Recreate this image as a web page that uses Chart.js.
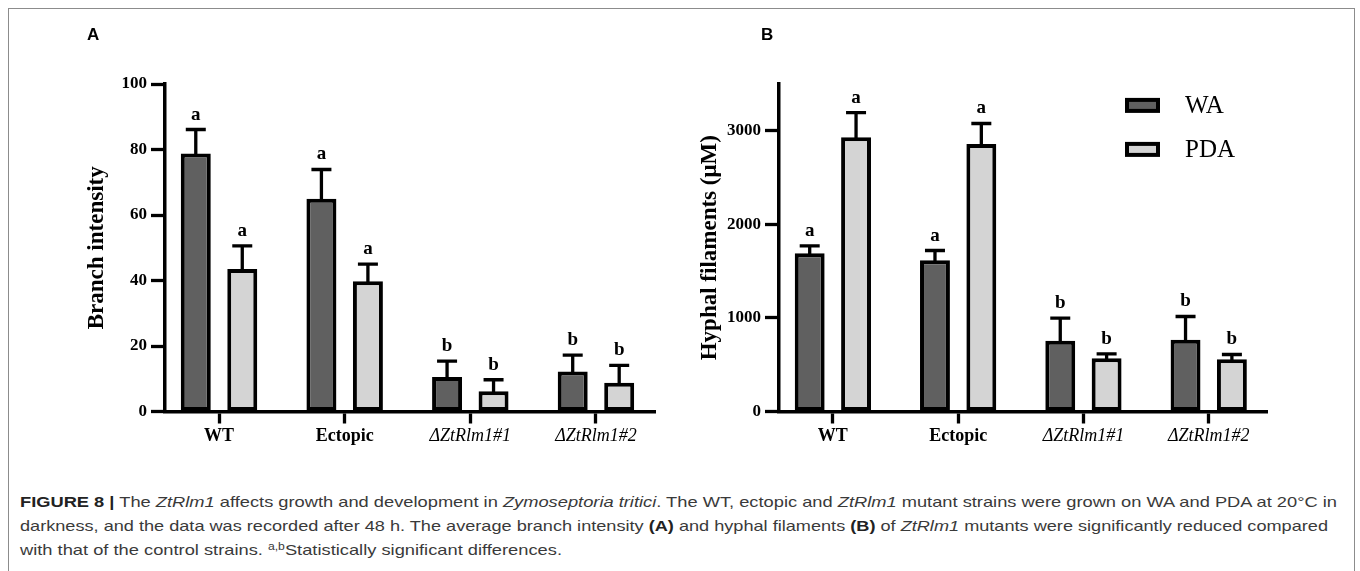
<!DOCTYPE html>
<html><head><meta charset="utf-8">
<script src="https://cdn.jsdelivr.net/npm/chart.js@4.4.1/dist/chart.umd.min.js"></script>
<style>
html,body{margin:0;padding:0;background:#fff;}
body{width:1360px;height:571px;position:relative;overflow:hidden;}
#frame{position:absolute;left:8px;top:8px;width:1347px;height:600px;border:1px solid #8c8c8c;box-sizing:border-box;}
canvas{position:absolute;top:0;}
#cA{left:0;} #cB{left:680px;}
.panel{position:absolute;font-family:"Liberation Sans",Arial,sans-serif;font-weight:bold;font-size:17px;line-height:17px;color:#000;}
.cap{position:absolute;left:20px;font-family:"Liberation Sans",Arial,sans-serif;font-size:15px;line-height:15px;color:#3a3a3a;white-space:nowrap;transform-origin:0 0;}
.cap b{color:#222;}
.cap sup{font-size:10px;vertical-align:5px;line-height:0;}
</style></head><body>
<div id="frame"></div>
<canvas id="cA" width="680" height="460"></canvas>
<canvas id="cB" width="680" height="460"></canvas>
<div class="panel" style="left:87px;top:26px;">A</div>
<div class="panel" style="left:761px;top:26px;">B</div>
<div class="cap" data-w="1317" style="top:494px;"><b>FIGURE 8 |</b> The <i>ZtRlm1</i> affects growth and development in <i>Zymoseptoria tritici</i>. The WT, ectopic and <i>ZtRlm1</i> mutant strains were grown on WA and PDA at 20°C in</div>
<div class="cap" data-w="1308" style="top:518px;">darkness, and the data was recorded after 48 h. The average branch intensity <b>(A)</b> and hyphal filaments <b>(B)</b> of <i>ZtRlm1</i> mutants were significantly reduced compared</div>
<div class="cap" data-w="542" style="top:542px;">with that of the control strains. <sup>a,b</sup>Statistically significant differences.</div>
<script>
const categories = ['WT', 'Ectopic', 'ΔZtRlm1#1', 'ΔZtRlm1#2'];
const seriesNames = ['WA', 'PDA'];
const branchWA = [78.8, 65.0, 10.5, 12.2];
const branchPDA = [43.5, 39.8, 6.2, 8.8];
const branchErrWA = [7.3, 8.9, 4.9, 5.0];
const branchErrPDA = [7.1, 5.2, 3.5, 5.3];
const hyphalWA = [1690, 1615, 756, 767];
const hyphalPDA = [2929, 2858, 568, 558];
const hyphalErrWA = [80, 105, 241, 248];
const hyphalErrPDA = [265, 219, 48, 51];
const lettersWA = ['a', 'a', 'b', 'b'];
const lettersPDA = ['a', 'a', 'b', 'b'];
const branchTicks = [0, 20, 40, 60, 80, 100];
const hyphalTicks = [0, 1000, 2000, 3000];
const branchTitle = 'Branch intensity';
const hyphalTitle = 'Hyphal filaments (μM)';

const colWA = '#606060', colPDA = '#d4d4d4';
const SERIF = '"Liberation Serif", "Times New Roman", serif';

const errorBarPlugin = {
  id: 'errbars',
  afterDatasetsDraw(chart) {
    const ctx = chart.ctx, y = chart.scales.y;
    chart.data.datasets.forEach((ds, di) => {
      const meta = chart.getDatasetMeta(di);
      meta.data.forEach((bar, i) => {
        const v = ds.data[i].y, e = ds.errors[i];
        const yTop = y.getPixelForValue(v + e);
        ctx.save();
        ctx.strokeStyle = '#000'; ctx.lineWidth = 3.3;
        ctx.beginPath();
        ctx.moveTo(bar.x, bar.y + 2); ctx.lineTo(bar.x, yTop);
        ctx.moveTo(bar.x - 10, yTop); ctx.lineTo(bar.x + 10, yTop);
        ctx.stroke();
        ctx.font = 'bold 19px ' + SERIF;
        ctx.textAlign = 'center'; ctx.textBaseline = 'alphabetic'; ctx.fillStyle = '#000';
        ctx.fillText(ds.letters[i], bar.x, yTop - 10);
        ctx.restore();
      });
    });
  }
};

const legendPlugin = {
  id: 'boxlegend',
  afterDraw(chart, args, opts) {
    if (!opts.show) return;
    const ctx = chart.ctx, a = chart.chartArea;
    chart.data.datasets.forEach((ds, i) => {
      const bx = a.left + 346, by = a.top + 14 + i * 44;
      ctx.save();
      ctx.fillStyle = '#000'; ctx.fillRect(bx, by, 35, 15);
      ctx.fillStyle = ds.backgroundColor; ctx.fillRect(bx + 4, by + 4, 27, 7);
      ctx.font = '25px ' + SERIF; ctx.fillStyle = '#000';
      ctx.textAlign = 'left'; ctx.textBaseline = 'middle';
      ctx.fillText(ds.label, bx + 60, by + 9);
      ctx.restore();
    });
  }
};

function makeChart(id, wa, pda, errWA, errPDA, yMax, yTicks, yTitle, cfg) {
  const mk = (vals) => categories.map((c, i) => ({ x: i, y: vals[i] }));
  return new Chart(document.getElementById(id), {
    type: 'bar',
    data: {
      datasets: [
        { label: seriesNames[0], data: mk(wa), errors: errWA, letters: lettersWA,
          backgroundColor: colWA, borderColor: '#000', borderWidth: 4, borderSkipped: false,
          categoryPercentage: 0.74, barPercentage: 0.645 },
        { label: seriesNames[1], data: mk(pda), errors: errPDA, letters: lettersPDA,
          backgroundColor: colPDA, borderColor: '#000', borderWidth: 4, borderSkipped: false,
          categoryPercentage: 0.74, barPercentage: 0.645 }
      ]
    },
    options: {
      responsive: false, animation: false, devicePixelRatio: 1,
      layout: { padding: { left: 0, right: cfg.padRight, top: cfg.padTop, bottom: 0 } },
      plugins: { legend: { display: false }, tooltip: { enabled: false }, boxlegend: { show: cfg.legend } },
      scales: {
        x: {
          type: 'linear', min: -0.43, max: 3.47, offset: false,
          afterBuildTicks: (s) => { s.ticks = categories.map((c, i) => ({ value: i })); },
          afterFit: (s) => { s.height = 48.5; },
          grid: { display: true, offset: false, drawOnChartArea: false, drawTicks: true, tickLength: 12, tickWidth: 3.3, tickColor: '#000' },
          border: { display: true, color: '#000', width: 3.5 },
          ticks: {
            autoSkip: false, maxRotation: 0, padding: 2, color: '#000',
            callback: (v, i) => categories[i],
            font: (c) => (c.index >= 2 ? { family: SERIF, size: 18, style: 'italic', weight: 'normal' } : { family: SERIF, size: 18, weight: 'bold' })
          }
        },
        y: {
          min: 0, max: yMax,
          afterBuildTicks: (s) => { s.ticks = yTicks.map(v => ({ value: v })); },
          afterFit: (s) => { s.width = cfg.yWidth; },
          grid: { display: true, drawOnChartArea: false, drawTicks: true, tickLength: 14, tickWidth: 3.3, tickColor: '#000' },
          border: { display: true, color: '#000', width: 3.5 },
          ticks: { padding: 4, color: '#000', font: { family: SERIF, size: 17, weight: 'bold' }, callback: (v) => String(v) },
          title: { display: true, text: yTitle, color: '#000', font: { family: SERIF, size: 23, weight: 'bold' }, padding: { top: cfg.titlePad, bottom: 0 } }
        }
      }
    },
    plugins: [errorBarPlugin, legendPlugin]
  });
}

makeChart('cA', branchWA, branchPDA, branchErrWA, branchErrPDA, 100, branchTicks, branchTitle,
  { padRight: 25, padTop: 84, yWidth: 165, titlePad: 83.7, legend: false });
makeChart('cB', hyphalWA, hyphalPDA, hyphalErrWA, hyphalErrPDA, 3500, hyphalTicks, hyphalTitle,
  { padRight: 92.4, padTop: 83.9, yWidth: 99, titlePad: 16.2, legend: true });

document.querySelectorAll('.cap').forEach(el => {
  const w = el.getBoundingClientRect().width;
  const t = parseFloat(el.dataset.w);
  el.style.transform = 'scaleX(' + (t / w) + ')';
});
</script>
</body></html>
